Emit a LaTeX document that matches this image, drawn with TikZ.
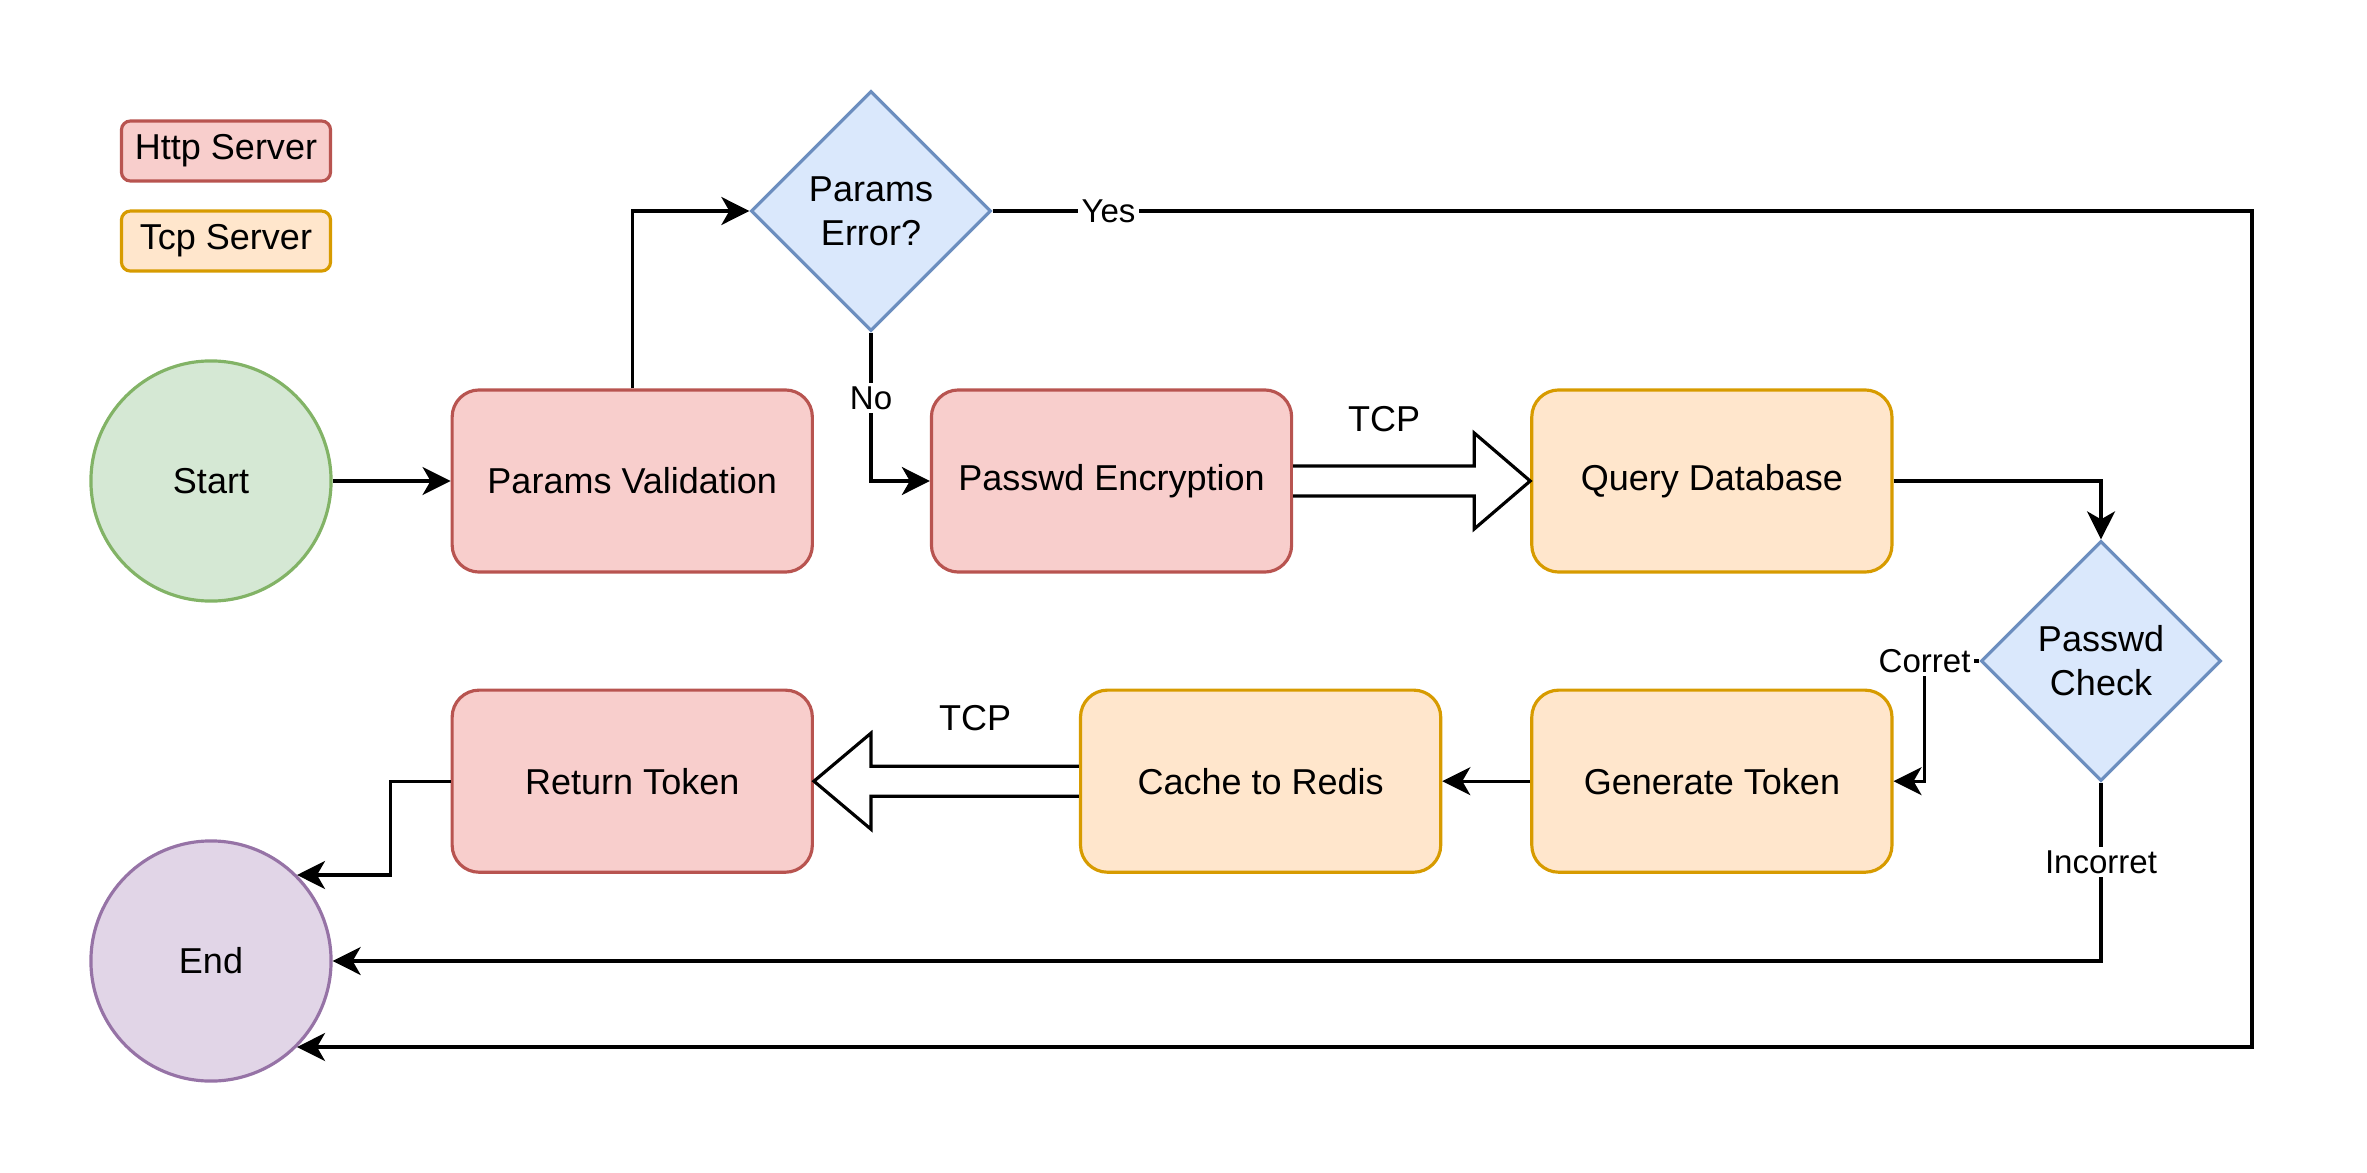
\documentclass[tikz,border=0pt]{standalone}
\usepackage{fontspec}
\setmainfont{Liberation Sans}
\usetikzlibrary{shapes.geometric, arrows.meta, positioning, calc}

\definecolor{httpfill}{HTML}{F8CECC}
\definecolor{httpline}{HTML}{B85450}
\definecolor{tcpfill}{HTML}{FFE6CC}
\definecolor{tcpline}{HTML}{D79B00}
\definecolor{checkfill}{HTML}{DAE8FC}
\definecolor{checkline}{HTML}{6C8EBF}
\definecolor{startfill}{HTML}{D5E8D4}
\definecolor{startline}{HTML}{82B366}
\definecolor{endfill}{HTML}{E1D5E7}
\definecolor{endline}{HTML}{9673A6}

\begin{document}
\begin{tikzpicture} [x = 0.01cm, y = -0.01cm, -> , >= {Stealth[length=0.28cm, width=0.28cm, inset=0.08cm]}, line width = 0.9pt, node distance = 3cm,
  every node/.style = {font=\fontsize{10.24}{12.5}\selectfont, align=center},
  http/.style = {draw=httpline, fill=httpfill, rounded corners=0.27cm, minimum width=3.6cm, minimum height=1.82cm},
  tcp/.style = {draw=tcpline, fill=tcpfill, rounded corners=0.27cm, minimum width=3.6cm, minimum height=1.82cm},
  check/.style = {draw=checkline, fill=checkfill, diamond, aspect=1, inner sep=0pt, minimum width=2.4cm, minimum height=2.4cm},
  legend/.style = {minimum width=2.09cm, minimum height=0.6cm, rounded corners=0.09cm},
  lbl/.style = {fill=white, inner sep=1pt, font=\fontsize{9.4}{11}\selectfont},
  hollow/.style = {-, draw=black, fill=white}]

\useasboundingbox (0, 0) rectangle (2367, 1173);

\node [http, legend] (lhttp) at (226, 151) {Http Server};
\node [tcp, legend] (ltcp) [below of = lhttp, node distance = 0.9cm] {Tcp Server};

\node [draw=startline, fill=startfill, circle, minimum size=2.4cm] (start) at (211, 481) {Start};
\node [http] (valid) [right of = start, node distance = 4.21cm] {Params Validation};
\node [http] (encrypt) [right of = valid, node distance = 4.79cm] {Passwd Encryption};
\node [tcp] (query) [right of = encrypt, node distance = 6cm] {Query Database};
\node [check] (perr) at (871, 211) {Params\\Error?};
\node [check] (pcheck) at (2101, 661) {Passwd\\Check};

\node [tcp] (token) [below of = query] {Generate Token};
\node [tcp] (redis) [left of = token, node distance = 4.51cm] {Cache to Redis};
\node [http] (ret) [below of = valid] {Return Token};
\node [draw=endline, fill=endfill, circle, minimum size=2.4cm] (finish) at (211, 961) {End};

\node (tcpa) at (1384, 419) {TCP};
\node (tcpb) at (975, 718) {TCP};

\coordinate (yesturn) at ($(finish.-45)+(1955, 0)$);
\coordinate (corr) at ($(token.east)+(31, 0)$);

\path (start) edge (valid);
\draw (valid.north) |- (perr.west);
\draw (perr.south) |- node [lbl, pos=0.22] {No} (encrypt.west);
\draw (perr.east) -| node [lbl, pos=0.046] {Yes} (yesturn) -- (finish.-45);
\draw (query.east) -| (pcheck.north);
\draw (pcheck.west) -| node [lbl] {Corret} (corr) -- (token.east);
\draw (pcheck.south) |- node [lbl, pos=0.223] {Incorret} (finish.east);
\path (token) edge (redis);
\draw (ret.west) -- ++(-60, 0) |- (finish.45);

\draw [hollow] ($(encrypt.east)+(0,-15)$) -- ($(query.west)+(-56,-15)$) -- ($(query.west)+(-56,-48)$) -- (query.west) -- ($(query.west)+(-56,48)$) -- ($(query.west)+(-56,15)$) -- ($(encrypt.east)+(0,15)$);
\draw [hollow] ($(redis.west)+(0,-15)$) -- ($(ret.east)+(57,-15)$) -- ($(ret.east)+(57,-48)$) -- (ret.east) -- ($(ret.east)+(57,48)$) -- ($(ret.east)+(57,15)$) -- ($(redis.west)+(0,15)$);

\end{tikzpicture}
\end{document}
